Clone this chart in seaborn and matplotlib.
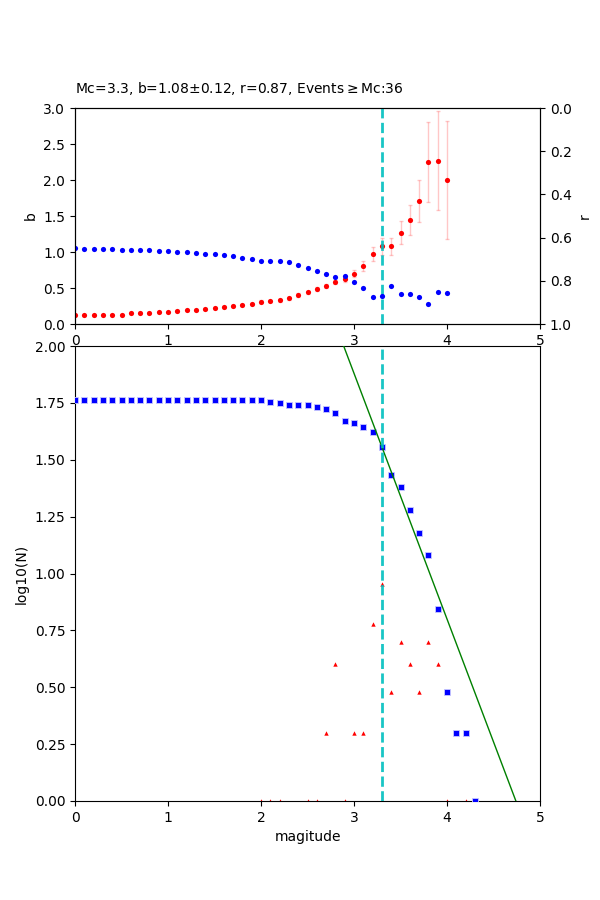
import numpy as np
import pandas as pd
import matplotlib
matplotlib.use("Agg")
import matplotlib.pyplot as plt
import seaborn as sns

# ---------------- data ----------------
mc = 3.3
b_title = "1.08"
b_err_title = "0.12"
r_title = "0.87"
n_events = 36

mags_top = [0.0, 0.1, 0.2, 0.3, 0.4, 0.5, 0.6, 0.7, 0.8, 0.9,
            1.0, 1.1, 1.2, 1.3, 1.4, 1.5, 1.6, 1.7, 1.8, 1.9,
            2.0, 2.1, 2.2, 2.3, 2.4, 2.5, 2.6, 2.7, 2.8, 2.9,
            3.0, 3.1, 3.2, 3.3, 3.4, 3.5, 3.6, 3.7, 3.8, 3.9, 4.0]
b_vals = [0.12, 0.12, 0.12, 0.13, 0.13, 0.13, 0.15, 0.15, 0.15, 0.16,
          0.16, 0.18, 0.19, 0.19, 0.21, 0.22, 0.24, 0.25, 0.26, 0.28,
          0.31, 0.32, 0.33, 0.36, 0.40, 0.44, 0.49, 0.53, 0.58, 0.62,
          0.70, 0.81, 0.97, 1.08, 1.08, 1.27, 1.44, 1.71, 2.25, 2.27, 2.00]
b_errs = [0.01, 0.01, 0.01, 0.01, 0.01, 0.01, 0.01, 0.01, 0.01, 0.01,
          0.01, 0.01, 0.01, 0.01, 0.01, 0.01, 0.015, 0.015, 0.015, 0.015,
          0.02, 0.02, 0.02, 0.02, 0.025, 0.025, 0.03, 0.03, 0.03, 0.035,
          0.05, 0.07, 0.10, 0.12, 0.115, 0.16, 0.21, 0.29, 0.56, 0.69, 0.82]
r_vals = [0.650, 0.654, 0.654, 0.654, 0.654, 0.659, 0.659, 0.659, 0.659, 0.664,
          0.664, 0.668, 0.668, 0.673, 0.677, 0.677, 0.682, 0.687, 0.696, 0.701,
          0.710, 0.710, 0.710, 0.715, 0.728, 0.742, 0.756, 0.770, 0.784, 0.779,
          0.807, 0.835, 0.877, 0.872, 0.826, 0.863, 0.863, 0.877, 0.909, 0.853, 0.858]

mags_bot = [0.0, 0.1, 0.2, 0.3, 0.4, 0.5, 0.6, 0.7, 0.8, 0.9,
            1.0, 1.1, 1.2, 1.3, 1.4, 1.5, 1.6, 1.7, 1.8, 1.9,
            2.0, 2.1, 2.2, 2.3, 2.4, 2.5, 2.6, 2.7, 2.8, 2.9,
            3.0, 3.1, 3.2, 3.3, 3.4, 3.5, 3.6, 3.7, 3.8, 3.9,
            4.0, 4.1, 4.2, 4.3]
cum_counts = [58] * 21 + [57, 56, 55, 55, 55, 54, 53, 51, 47,
                          46, 44, 42, 36, 27, 24, 19, 15, 12, 7,
                          3, 2, 2, 1]
bin_counts = [0] * 20 + [1, 1, 1, 0, 0, 1, 1, 2, 4, 1,
                         2, 2, 6, 9, 3, 5, 4, 3, 5, 4,
                         1, 0, 1, 1]
fit_a = 5.12
fit_b = 1.08

# ---------------- figure ----------------
fig = plt.figure(figsize=(6, 9), dpi=100)
W, H = 600.0, 900.0
ax1 = fig.add_axes([75 / W, 1 - 324 / H, 465 / W, 216 / H])
ax2 = fig.add_axes([75 / W, 1 - 801 / H, 465 / W, 455 / H])

# ---- top panel: b (left) and r (right, inverted)
df_top = pd.DataFrame({"M": mags_top, "b": b_vals, "err": b_errs, "r": r_vals})
ax1.errorbar(df_top["M"], df_top["b"], yerr=df_top["err"], fmt="none",
             ecolor="red", alpha=0.22, elinewidth=1, capsize=1.5, zorder=1)
sns.scatterplot(data=df_top, x="M", y="b", ax=ax1, color="red", marker="o",
                s=14, linewidth=0, zorder=2)
ax1.axvline(mc, color="c", linestyle="--", linewidth=2, alpha=0.9, zorder=3)
ax1.set_xlim(0, 5)
ax1.set_ylim(0, 3)
ax1.set_yticks([0.0, 0.5, 1.0, 1.5, 2.0, 2.5, 3.0])
ax1.set_xticks([0, 1, 2, 3, 4, 5])
ax1.set_xlabel("")
ax1.set_ylabel("b")
ax1.set_title(f"Mc={mc}, b={b_title}±{b_err_title}, r={r_title}, "
              + r"Events$\geq$Mc:" + f"{n_events}", loc="left", fontsize=10,
              pad=11)

ax1r = ax1.twinx()
sns.scatterplot(data=df_top, x="M", y="r", ax=ax1r, color="blue", marker="o",
                s=14, linewidth=0)
ax1r.set_ylim(1, 0)
ax1r.set_yticks([0.0, 0.2, 0.4, 0.6, 0.8, 1.0])
ax1r.set_ylabel("r")
ax1r.set_xlim(0, 5)

# ---- bottom panel: frequency-magnitude distribution
df_bot = pd.DataFrame({"M": mags_bot, "cum": cum_counts, "n": bin_counts})
df_bin = df_bot[df_bot["n"] > 0].copy()
df_bin["logn"] = np.log10(df_bin["n"])
df_bot["logcum"] = np.log10(df_bot["cum"])

sns.scatterplot(data=df_bin, x="M", y="logn", ax=ax2, color="red", marker="^",
                s=10, linewidth=0, zorder=2)
sns.scatterplot(data=df_bot, x="M", y="logcum", ax=ax2, color="blue", marker="s",
                s=20, edgecolor="#c8c8ff", linewidth=0.6, zorder=3)
xfit = np.array([0.0, 5.0])
ax2.plot(xfit, fit_a - fit_b * xfit, color="green", linewidth=1, zorder=4)
ax2.axvline(mc, color="c", linestyle="--", linewidth=2, alpha=0.9, zorder=5)
ax2.set_xlim(0, 5)
ax2.set_ylim(0, 2)
ax2.set_yticks([0.0, 0.25, 0.5, 0.75, 1.0, 1.25, 1.5, 1.75, 2.0])
ax2.yaxis.set_major_formatter(matplotlib.ticker.FormatStrFormatter("%.2f"))
ax2.set_xticks([0, 1, 2, 3, 4, 5])
ax2.set_xlabel("magitude")
ax2.set_ylabel("log10(N)")

fig.savefig("out.png", dpi=100)
